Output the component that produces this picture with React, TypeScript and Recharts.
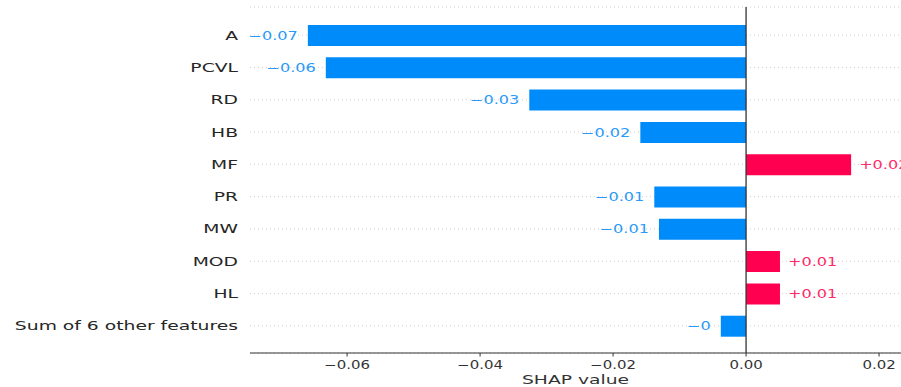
import { BarChart, Bar, XAxis, YAxis, CartesianGrid, ReferenceLine, LabelList, Cell } from 'recharts';

const features = ['A', 'PCVL', 'RD', 'HB', 'MF', 'PR', 'MW', 'MOD', 'HL', 'Sum of 6 other features'];
const shapValues = [-0.0659, -0.0632, -0.0326, -0.0159, 0.0158, -0.0138, -0.0131, 0.0051, 0.0051, -0.0038];
const valueLabels = ['\u22120.07', '\u22120.06', '\u22120.03', '\u22120.02', '+0.02', '\u22120.01', '\u22120.01', '+0.01', '+0.01', '\u22120'];
const xTicks = [-0.06, -0.04, -0.02, 0, 0.02];
const xTickLabels = ['\u22120.06', '\u22120.04', '\u22120.02', '0.00', '0.02'];

const BLUE = '#008bfb';
const RED = '#ff0051';
const BLUE_TEXT = '#2a9af8';
const RED_TEXT = '#ff2a6a';
const FONT = '"DejaVu Sans", sans-serif';

const rows = features.map((name, i) => ({ name, value: shapValues[i], label: valueLabels[i] }));

// matplotlib output was stretched horizontally, so texts are scaled on x
function WideText({ x, y, anchor, size, sx, fill, children }: any) {
  return (
    <text
      transform={`translate(${x} ${y}) scale(${sx} 1)`}
      textAnchor={anchor}
      dy="0.36em"
      fontSize={size}
      fontFamily={FONT}
      fill={fill}
    >
      {children}
    </text>
  );
}

const YTick = ({ x, y, payload }: any) => (
  <WideText x={x} y={y} anchor="end" size={12.5} sx={1.5} fill="#262626">
    {payload.value}
  </WideText>
);

const XTick = ({ x, y, payload }: any) => {
  const i = xTicks.indexOf(payload.value);
  return (
    <WideText x={x} y={y} anchor="middle" size={11.5} sx={1.3} fill="#333">
      {i >= 0 ? xTickLabels[i] : payload.value}
    </WideText>
  );
};

const ValueLabel = ({ x, y, width, height, value }: any) => {
  const positive = String(value).startsWith('+');
  const left = Math.min(x, x + width);
  const right = Math.max(x, x + width);
  return (
    <WideText
      x={positive ? right + 8 : left - 10}
      y={y + height / 2}
      anchor={positive ? 'start' : 'end'}
      size={11.5}
      sx={1.4}
      fill={positive ? RED_TEXT : BLUE_TEXT}
    >
      {value}
    </WideText>
  );
};

const AxisTitle = ({ viewBox }: any) => (
  <WideText x={viewBox.x + viewBox.width / 2} y={viewBox.y + viewBox.height - 8} anchor="middle" size={13} sx={1.44} fill="#333">
    SHAP value
  </WideText>
);

export default function App() {
  return (
    <div style={{ position: 'absolute', left: 0, top: 0, width: 901, height: 387, overflow: 'hidden', background: '#fff' }}>
      <BarChart
        width={901}
        height={387}
        data={rows}
        layout="vertical"
        margin={{ top: 7, right: 0, bottom: 0, left: 0 }}
        barSize={21}
      >
        <CartesianGrid horizontal vertical={false} stroke="#cfcfcf" strokeDasharray="1 3" />
        <XAxis
          type="number"
          domain={[-0.0746, 0.0233]}
          allowDataOverflow
          ticks={xTicks}
          height={34}
          tick={<XTick />}
          tickSize={3.5}
          tickMargin={8}
          tickLine={{ stroke: '#333' }}
          axisLine={{ stroke: '#333' }}
          label={<AxisTitle />}
        />
        <YAxis
          type="category"
          dataKey="name"
          width={250}
          axisLine={false}
          tickLine={false}
          tickMargin={6}
          interval={0}
          padding={{ top: 12, bottom: 11 }}
          tick={<YTick />}
        />
        <Bar dataKey="value" isAnimationActive={false}>
          {rows.map((r, i) => (
            <Cell key={`c-${i}`} fill={r.value >= 0 ? RED : BLUE} />
          ))}
          <LabelList dataKey="label" content={<ValueLabel />} />
        </Bar>
        <ReferenceLine x={0} stroke="#333" strokeWidth={1.3} />
      </BarChart>
    </div>
  );
}
